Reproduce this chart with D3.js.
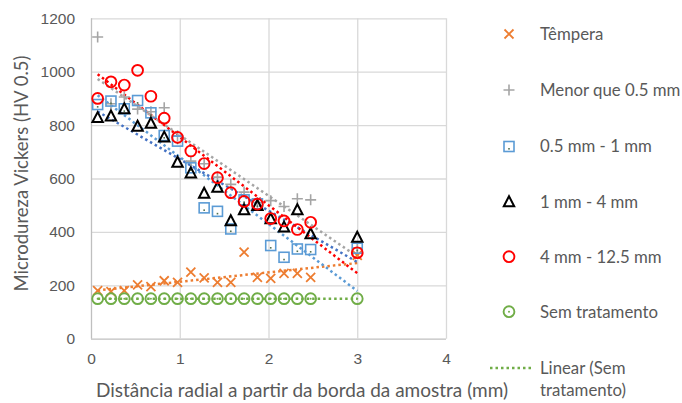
<!DOCTYPE html>
<html>
<head>
<meta charset="utf-8">
<script src="https://cdn.jsdelivr.net/npm/d3@7"></script>
<style>
  body { margin: 0; background: #fff; }
  svg { font-family: Lato, "Open Sans", sans-serif; }
</style>
</head>
<body>
<svg id="chart" width="682" height="403"></svg>
<script>
// distances (mm) where hardness was measured
const distances = [0.075, 0.225, 0.375, 0.525, 0.675, 0.825, 0.975, 1.125, 1.275,
                   1.425, 1.575, 1.725, 1.875, 2.025, 2.175, 2.325, 2.475, 3.0]

const tempera   = [180, 176, 180, 202, 195, 217, 211, 249, 228, 211, 211, 324, 230, 226, 245, 245, 230, 312]
const menor05   = [1130, 880, 905, 860, 850, 865, 760, 665, 655, 605, 578, 549, 510, 517, 495, 524, 520, 340]
const mm05a1    = [877, 890, 861, 892, 846, 761, 740, 640, 490, 477, 411, 520, 505, 349, 305, 336, 334, 339]
const mm1a4     = [828, 834, 861, 796, 807, 755, 661, 621, 545, 567, 442, 483, 499, 449, 418, 483, 393, 380]
const mm4a125   = [900, 962, 950, 1005, 908, 826, 754, 703, 656, 603, 547, 514, 504, 450, 441, 409, 436, 322]
const semTrat   = [150, 150, 150, 150, 150, 150, 150, 150, 150, 150, 150, 150, 150, 150, 150, 150, 150, 150]

const xTicks = [0, 1, 2, 3, 4]
const yTicks = [0, 200, 400, 600, 800, 1000, 1200]

const seriesNames = ["Têmpera", "Menor que 0.5 mm", "0.5 mm - 1 mm", "1 mm - 4 mm", "4 mm - 12.5 mm", "Sem tratamento"]

const series = [
    { name: seriesNames[0], values: tempera, marker: "x",        color: "#ED7D31", trend: "#ED7D31" },
    { name: seriesNames[1], values: menor05, marker: "plus",     color: "#A5A5A5", trend: "#A5A5A5" },
    { name: seriesNames[2], values: mm05a1,  marker: "square",   color: "#5B9BD5", trend: "#5B9BD5" },
    { name: seriesNames[3], values: mm1a4,   marker: "triangle", color: "#000000", trend: "#4472C4" },
    { name: seriesNames[4], values: mm4a125, marker: "circle",   color: "#FF0000", trend: "#FF0000" },
    { name: seriesNames[5], values: semTrat, marker: "circleDot", color: "#70AD47", trend: "#70AD47" }
]

const svg = d3.select("#chart")
const margin = { left: 91, right: 236, top: 18.3, bottom: 64.3 }
const width = 682 - margin.left - margin.right
const height = 403 - margin.top - margin.bottom

const x = d3.scaleLinear().domain([0, 4]).range([0, width])
const y = d3.scaleLinear().domain([0, 1200]).range([height, 0])

const plot = svg.append("g").attr("transform", `translate(${margin.left},${margin.top})`)

// gridlines
const yAxis = d3.axisLeft(y).tickValues(yTicks).tickSize(-width).tickPadding(16).tickFormat(d3.format("d"))
const xAxis = d3.axisBottom(x).tickValues(xTicks).tickSize(-height).tickPadding(14).tickFormat(d3.format("d"))

const gy = plot.append("g").call(yAxis)
const gx = plot.append("g").attr("transform", `translate(0,${height})`).call(xAxis)

for (const g of [gx, gy]) {
    g.select(".domain").remove()
    g.selectAll(".tick line").attr("stroke", "#D9D9D9").attr("stroke-width", 1.3)
    g.selectAll(".tick text").attr("fill", "#595959").style("font-size", "15.5px")
}
gy.selectAll(".tick line").filter(d => d === 0).attr("stroke", "#BFBFBF")
gx.selectAll(".tick line").filter(d => d === 0).attr("stroke", "#BFBFBF")

// linear trend lines
function fit(xs, ys) {
    const mx = d3.mean(xs), my = d3.mean(ys)
    const sxy = d3.sum(xs, (v, i) => (v - mx) * (ys[i] - my))
    const sxx = d3.sum(xs, v => (v - mx) * (v - mx))
    const b = sxy / sxx
    return v => my + b * (v - mx)
}

const x0 = d3.min(distances), x1 = d3.max(distances)
series.forEach(s => {
    const f = fit(distances, s.values)
    plot.append("line")
        .attr("x1", x(x0)).attr("y1", y(f(x0)))
        .attr("x2", x(x1)).attr("y2", y(f(x1)))
        .attr("stroke", s.trend)
        .attr("stroke-width", 2.5)
        .attr("stroke-dasharray", "2.5 3")
})

// markers
function drawMarker(g, type, color) {
    if (type === "x") {
        g.append("path").attr("d", "M-4.5,-4.5L4.5,4.5M-4.5,4.5L4.5,-4.5")
            .attr("stroke", color).attr("stroke-width", 1.8).attr("fill", "none")
    } else if (type === "plus") {
        g.append("path").attr("d", "M-5.5,0L5.5,0M0,-5.5L0,5.5")
            .attr("stroke", color).attr("stroke-width", 1.6).attr("fill", "none")
    } else if (type === "square") {
        g.append("rect").attr("x", -5).attr("y", -5).attr("width", 10).attr("height", 10)
            .attr("stroke", color).attr("stroke-width", 1.6).attr("fill", "none")
        g.append("rect").attr("x", -0.8).attr("y", 1.5).attr("width", 1.6).attr("height", 1.6)
            .attr("fill", "#507050")
    } else if (type === "triangle") {
        g.append("path").attr("d", "M0,-5.5L5.2,4.5L-5.2,4.5Z")
            .attr("stroke", color).attr("stroke-width", 2).attr("fill", "none")
    } else if (type === "circle") {
        g.append("circle").attr("r", 5.4)
            .attr("stroke", color).attr("stroke-width", 1.9).attr("fill", "none")
    } else if (type === "circleDot") {
        g.append("circle").attr("r", 5.4)
            .attr("stroke", color).attr("stroke-width", 1.9).attr("fill", "none")
        g.append("circle").attr("r", 1).attr("fill", color)
    }
}

series.forEach(s => {
    const pts = plot.append("g").selectAll("g")
        .data(s.values.map((v, i) => ({ x: distances[i], y: v })))
        .enter().append("g")
        .attr("transform", d => `translate(${x(d.x)},${y(d.y)})`)
    pts.each(function () { drawMarker(d3.select(this), s.marker, s.color) })
})

// axis titles
svg.append("text")
    .attr("x", 302).attr("y", 397)
    .attr("text-anchor", "middle")
    .attr("fill", "#595959")
    .style("font-size", "19px")
    .text("Distância radial a partir da borda da amostra (mm)")

svg.append("text")
    .attr("transform", "translate(28,173.5) rotate(-90)")
    .attr("text-anchor", "middle")
    .attr("fill", "#595959")
    .style("font-size", "18.5px")
    .text("Microdureza Vickers (HV 0.5)")

// legend
const legendY = [34, 90, 146.5, 201.7, 256.7, 311.7]
const legend = svg.append("g")
series.forEach((s, i) => {
    const g = legend.append("g").attr("transform", `translate(509,${legendY[i]})`)
    drawMarker(g, s.marker, s.color)
    legend.append("text")
        .attr("x", 540).attr("y", legendY[i])
        .attr("dy", "0.35em")
        .attr("fill", "#595959")
        .style("font-size", "16.8px")
        .text(s.name)
})
legend.append("line")
    .attr("x1", 490).attr("x2", 532).attr("y1", 368).attr("y2", 368)
    .attr("stroke", "#70AD47").attr("stroke-width", 2.5).attr("stroke-dasharray", "2.5 3")
legend.append("text")
    .attr("x", 540).attr("y", 368).attr("dy", "0.35em")
    .attr("fill", "#595959").style("font-size", "16.8px")
    .text("Linear (Sem")
legend.append("text")
    .attr("x", 540).attr("y", 390).attr("dy", "0.35em")
    .attr("fill", "#595959").style("font-size", "16.8px")
    .text("tratamento)")
</script>
</body>
</html>
